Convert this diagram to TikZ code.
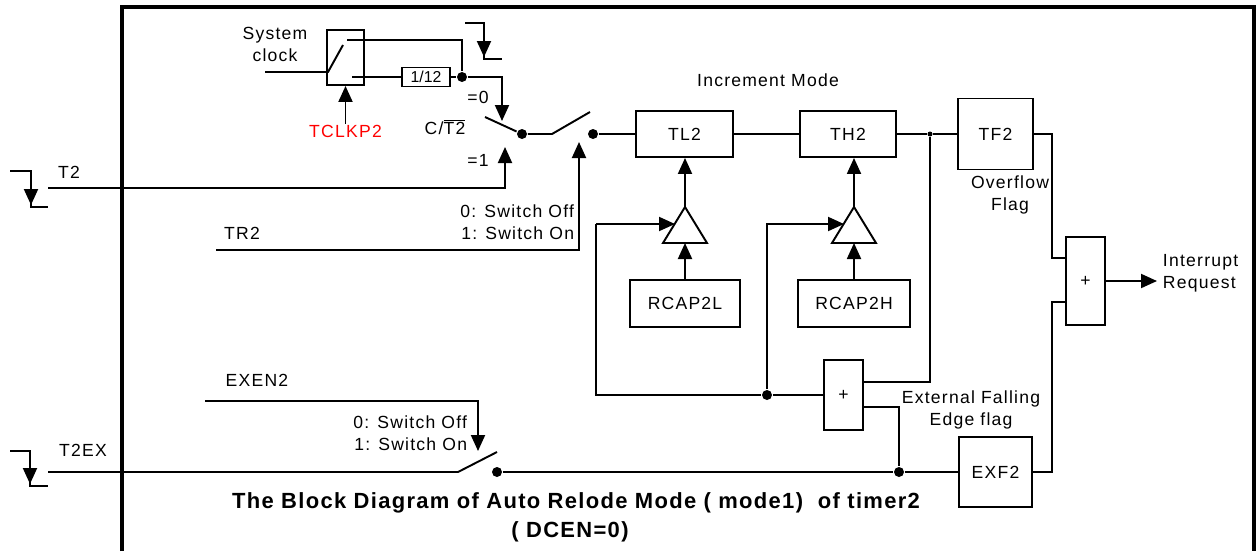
\documentclass[tikz,border=0pt]{standalone}
\usepackage{fontspec}
\setmainfont{Liberation Sans}
\usetikzlibrary{arrows.meta}
\newcommand\lblfont{\addfontfeature{LetterSpace=7}\fontsize{10}{12.5}\selectfont}
\newcommand\capfont{\addfontfeature{LetterSpace=6}\bfseries\fontsize{12.5}{14}\selectfont}

\tikzset{
  blk/.style={draw, line width=1.1pt, inner sep=0pt, font=\lblfont},
  lbl/.style={inner sep=0pt, font=\lblfont},
  tip/.style={-{Triangle[length=0.32cm,width=0.28cm]}},
  dot/.style={circle, fill, inner sep=0pt, minimum size=0.2cm},
}

\begin{document}
\begin{tikzpicture}[x=0.02cm,y=-0.02cm,line width=1.1pt]
\useasboundingbox (0,0) rectangle (1256,551);
% frame
\draw[line width=1.8pt] (122,551) -- (122,7) -- (1254,7) -- (1254,551);

% clock select
\node[blk, minimum width=0.74cm, minimum height=1.1cm] (clk) at (345.5,57.5) {};
\node[lbl, align=center] (sysclk) at (275,44) {System\\clock};
\node[blk, minimum width=0.96cm, minimum height=0.38cm, font=\fontsize{9}{10}\selectfont] (div) at (426,77) {1/12};
\node[dot] (d1) at (462,77) {};
\draw (265,72) -- (328,72) -- (343,45);
\draw (347,40) -- (462,40) -- (d1);
\draw (352,77) -- (div);
\draw (div) -- (d1);
\draw[tip] (d1) -| (502,121);
\node[lbl, text=red] (tclk) at (345.5,131) {TCLKP2};
\draw[tip] (tclk.north) -- (clk.south);
\draw (465,23) -- (484,23) -- (484,59) -- (502,59);
\draw[tip] (484,23) -- (484,57);

% counter / timer select
\node[lbl] (eq0) at (478,97) {=0};
\node[lbl] (ct2) at (445,127) {C/\(\overline{\mbox{T2}}\)};
\node[lbl] (eq1) at (478,160) {=1};
\node[dot] (s1) at (522,134) {};
\node[dot] (s2) at (593,134) {};
\draw (485,117) -- (s1);
\draw (s1) -- (552,134) -- (590,112);

% T2 and TR2
\draw (10,171) -- (31,171) -- (31,207) -- (48,207);
\draw[tip] (31,171) -- (31,205);
\node[lbl] (t2) at (69,172) {T2};
\draw[tip] (48,188) -| (505,147);
\node[lbl] (tr2) at (242,233) {TR2};
\draw[tip] (216,250) -| (579,142);
\node[lbl, align=right, anchor=east] (tr2sw) at (575,222) {0: Switch Off\\1: Switch On};

% counter registers
\node[lbl] (incmode) at (768,80) {Increment Mode};
\node[blk, minimum width=1.94cm, minimum height=0.92cm] (tl2) at (684.5,134) {TL2};
\node[blk, minimum width=1.92cm, minimum height=0.92cm] (th2) at (848,134) {TH2};
\node[blk, minimum width=1.5cm, minimum height=1.42cm] (tf2) at (995.5,134) {TF2};
\node[dot, minimum size=0.1cm] (jn) at (930,134) {};
\draw (s2) -- (tl2);
\draw (tl2) -- (th2);
\draw (th2) -- (jn) -- (tf2);
\node[lbl, align=center] (ovf) at (1010,195) {Overflow\\Flag};

% reload
\node[blk, minimum width=2.2cm, minimum height=0.94cm] (rcl) at (685,303.5) {RCAP2L};
\node[blk, minimum width=2.24cm, minimum height=0.94cm] (rch) at (854,303.5) {RCAP2H};
\draw (685,207) -- (707,243) -- (663,243) -- cycle;
\draw (854,207) -- (876,243) -- (832,243) -- cycle;
\draw[tip] (685,207) -- (685,207 |- tl2.south);
\draw[tip] (854,207) -- (854,207 |- th2.south);
\draw[tip] (rcl.north) -- (685,243);
\draw[tip] (rch.north) -- (854,243);

% interrupt
\node[blk, minimum width=0.78cm, minimum height=1.76cm] (ora) at (1085.5,281) {+};
\node[lbl, align=left, anchor=west] (irq) at (1162,273) {Interrupt\\Request};
\draw (tf2.east) -| (1052,258) -- (1052,258 -| ora.west);
\draw[tip] (ora.east) -- (1157,281);

% external flag
\node[blk, minimum width=0.78cm, minimum height=1.4cm] (orb) at (843.5,395) {+};
\node[blk, minimum width=1.46cm, minimum height=1.4cm] (exf2) at (995.5,472) {EXF2};
\node[lbl, align=center] (extlbl) at (971,410) {External Falling\\Edge flag};
\node[dot] (fb) at (767,395) {};
\node[dot] (dx) at (899,472) {};
\draw (jn) -- (930,382) -- (930,382 -| orb.east);
\draw (orb.east |- 899,407) -| (dx);
\draw (orb.west) -- (fb) -- (596,395) -- (596,224);
\draw[tip] (596,224) -- (675,224);
\draw[tip] (fb) -- (767,224) -- (844,224);
\draw (exf2.east) -| (1052,302) -- (1052,302 -| ora.west);

% T2EX and EXEN2
\draw (10,451) -- (30,451) -- (30,486) -- (48,486);
\draw[tip] (30,451) -- (30,484);
\node[lbl] (t2ex) at (83,450) {T2EX};
\node[dot] (s3) at (497,472) {};
\draw (48,472) -- (458,472) -- (497,452);
\draw (s3) -- (dx) -- (exf2);
\node[lbl] (exen2) at (257,380) {EXEN2};
\draw[tip] (205,401) -| (478,451);
\node[lbl, align=right, anchor=east] (exsw) at (468,433) {0: Switch Off\\1: Switch On};

% caption
\node[font=\capfont] (title) at (576,503) {The Block Diagram of Auto Relode Mode ( mode1)\ \ of timer2};
\node[font=\capfont] (dcen) at (570,532) {( DCEN=0)};
\end{tikzpicture}
\end{document}
